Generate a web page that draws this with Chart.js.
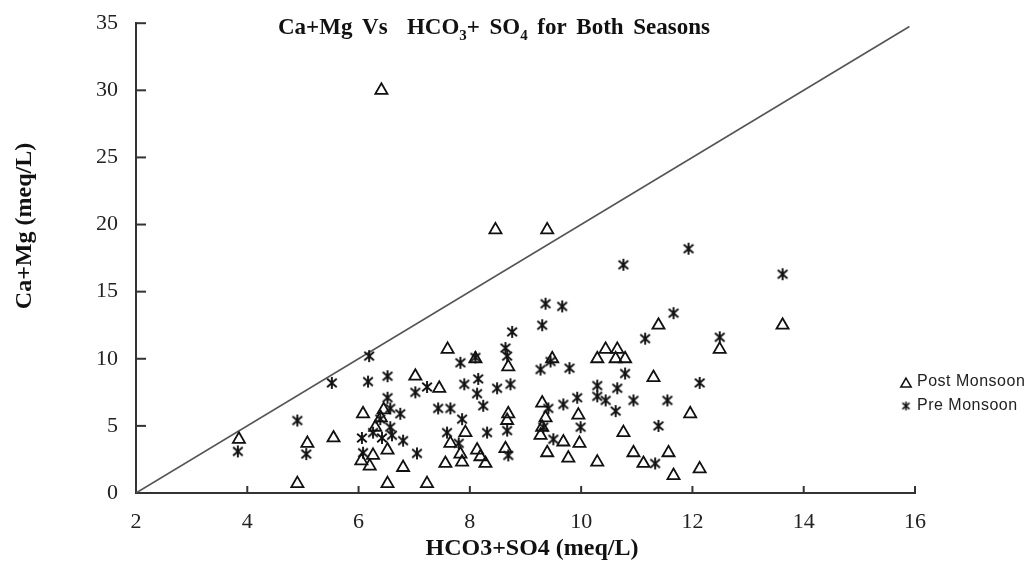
<!DOCTYPE html>
<html>
<head>
<meta charset="utf-8">
<script src="https://cdn.jsdelivr.net/npm/chart.js@4/dist/chart.umd.min.js"></script>
<style>
  body { margin: 0; background: #fff; }
  canvas { display: block; }
</style>
</head>
<body>
<canvas id="chart" width="1031" height="563"></canvas>
<script>
// values
var postX = [3.85, 4.9, 5.08, 5.55, 6.08, 6.05, 6.2, 6.26, 6.3, 6.4, 6.45, 6.52, 6.52, 6.8, 7.02, 7.23,
    7.45, 7.6, 7.56, 7.65, 7.92, 7.86, 7.83, 8.13, 8.19, 8.28, 8.69, 8.69, 8.67, 8.64, 8.1, 9.48,
    11.39, 13.62, 12.49, 10.29, 10.44, 10.65, 10.62, 10.79, 11.3, 11.96, 9.3, 9.36, 9.3, 9.27, 9.39,
    9.68, 9.77, 9.95, 9.97, 10.76, 10.94, 10.29, 11.12, 11.57, 11.66, 12.13, 6.41, 8.46, 9.39];
var postY = [4.0, 0.7, 3.7, 4.1, 5.9, 2.4, 2.0, 2.8, 4.9, 5.6, 6.2, 3.2, 0.7, 1.9, 8.7, 0.7,
    7.8, 10.7, 2.2, 3.7, 4.5, 2.3, 2.9, 3.2, 2.7, 2.2, 9.4, 5.9, 5.4, 3.3, 10.0, 10.0,
    12.5, 12.5, 10.7, 10.0, 10.7, 10.7, 10.0, 10.0, 8.6, 5.9, 6.7, 5.6, 4.9, 4.3, 3.0,
    3.8, 2.6, 5.8, 3.7, 4.5, 3.0, 2.3, 2.2, 3.0, 1.3, 1.8, 30.0, 19.6, 19.6];

var preX = [3.83, 4.9, 5.06, 5.52, 6.19, 6.17, 6.52, 6.52, 6.75, 6.06, 6.08, 6.26, 6.42, 6.57, 6.6,
    6.8, 6.39, 7.02, 7.05, 7.23, 7.43, 7.65, 7.59, 7.8, 7.86, 7.83, 8.1, 7.9, 8.15, 8.13, 8.24,
    8.31, 8.49, 8.73, 8.76, 8.64, 8.67, 8.67, 8.69, 9.3, 9.36, 9.66, 11.66, 11.15, 12.49, 9.27,
    9.45, 9.79, 10.79, 12.13, 10.29, 10.65, 10.29, 10.44, 10.62, 10.94, 11.55, 9.68, 9.93, 11.39,
    9.99, 9.41, 9.5, 9.32, 11.33, 11.93, 10.76, 13.62, 6.57];
var preY = [3.1, 5.4, 2.9, 8.2, 10.2, 8.3, 8.7, 7.1, 5.9, 4.1, 3.0, 4.5, 4.1, 4.9, 4.3,
    3.9, 5.5, 7.5, 2.95, 7.9, 6.3, 6.3, 4.5, 3.7, 5.5, 9.7, 10.1, 8.1, 8.5, 7.4, 6.5,
    4.5, 7.8, 8.1, 12.0, 10.8, 10.2, 4.65, 2.8, 12.5, 14.1, 13.9, 13.4, 11.5, 11.6, 9.2,
    9.8, 9.3, 8.9, 8.2, 8.0, 7.8, 7.2, 6.9, 6.1, 6.9, 6.9, 6.6, 7.1, 5.0,
    4.9, 6.3, 4.0, 4.9, 2.2, 18.2, 17.0, 16.3, 6.3];

var lineX = [2, 15.9];
var lineY = [0, 34.75];

var seriesNames = ['Post Monsoon', 'Pre Monsoon'];
var xTitle = 'HCO3+SO4 (meq/L)';
var yTitle = 'Ca+Mg (meq/L)';
// [text, isSubscript]
var titleParts = [['Ca+Mg Vs  HCO', 0], ['3', 1], ['+ SO', 0], ['4', 1], [' for Both Seasons', 0]];

function pairs(xs, ys) {
    return xs.map(function (x, i) { return { x: x, y: ys[i] }; });
}

function makeStar(size, lw) {
    var c = document.createElement('canvas');
    c.width = size;
    c.height = size;
    var g = c.getContext('2d');
    var m = size / 2, r = size / 2 - 1;
    g.strokeStyle = '#111';
    g.lineWidth = lw;
    g.beginPath();
    g.moveTo(m, m - r); g.lineTo(m, m + r);
    g.moveTo(m - r * 0.8, m - r * 0.7); g.lineTo(m + r * 0.8, m + r * 0.7);
    g.moveTo(m - r * 0.8, m + r * 0.7); g.lineTo(m + r * 0.8, m - r * 0.7);
    g.stroke();
    return c;
}

function drawTriangle(ctx, x, y, r) {
    ctx.beginPath();
    ctx.moveTo(x, y - r);
    ctx.lineTo(x + r * 0.866, y + r * 0.5);
    ctx.lineTo(x - r * 0.866, y + r * 0.5);
    ctx.closePath();
    ctx.stroke();
}

var starImg = makeStar(14, 1.9);
var starSmall = makeStar(11, 1.5);

var decorPlugin = {
    id: 'decor',
    afterDraw: function (chart) {
        var ctx = chart.ctx;
        var area = chart.chartArea;
        var xs = chart.scales.x, ys = chart.scales.y;
        ctx.save();
        // inward tick marks
        ctx.strokeStyle = '#333';
        ctx.lineWidth = 2;
        ys.ticks.forEach(function (t) {
            if (t.value === 0) return;
            var py = ys.getPixelForValue(t.value);
            ctx.beginPath();
            ctx.moveTo(area.left, py);
            ctx.lineTo(area.left + 10, py);
            ctx.stroke();
        });
        xs.ticks.forEach(function (t) {
            if (t.value === 2) return;
            var px = xs.getPixelForValue(t.value);
            ctx.beginPath();
            ctx.moveTo(px, area.bottom);
            ctx.lineTo(px, area.bottom - 7);
            ctx.stroke();
        });

        ctx.fillStyle = '#111';
        // chart title with subscripts
        var mainFont = 'bold 23px "Liberation Serif"';
        var subFont = 'bold 15px "Liberation Serif"';
        var natural = 0, spaces = 0;
        titleParts.forEach(function (p) {
            ctx.font = p[1] ? subFont : mainFont;
            natural += ctx.measureText(p[0]).width;
            spaces += (p[0].match(/ /g) || []).length;
        });
        var extra = (432 - natural) / spaces;
        var tx = 278, baseY = 34;
        ctx.textAlign = 'left';
        ctx.textBaseline = 'alphabetic';
        titleParts.forEach(function (p) {
            ctx.font = p[1] ? subFont : mainFont;
            var sp = ctx.measureText(' ').width + extra;
            var words = p[0].split(' ');
            words.forEach(function (w, i) {
                if (i > 0) tx += sp;
                ctx.fillText(w, tx, p[1] ? baseY + 6 : baseY);
                tx += ctx.measureText(w).width;
            });
        });

        // axis titles
        ctx.font = 'bold 24px "Liberation Serif"';
        ctx.textAlign = 'center';
        ctx.fillText(xTitle, 532, 555);
        ctx.save();
        ctx.translate(31, 226);
        ctx.rotate(-Math.PI / 2);
        ctx.fillText(yTitle, 0, 0);
        ctx.restore();

        // legend
        ctx.font = '16px "Liberation Sans"';
        ctx.letterSpacing = '0.5px';
        ctx.textAlign = 'left';
        ctx.textBaseline = 'middle';
        ctx.fillStyle = '#222';
        ctx.strokeStyle = '#111';
        ctx.lineWidth = 1.5;
        drawTriangle(ctx, 906, 384, 6);
        ctx.fillText(seriesNames[0], 917, 382);
        ctx.drawImage(starSmall, 906 - 5.5, 406 - 5.5);
        ctx.fillText(seriesNames[1], 917, 406);
        ctx.restore();
    }
};

var tickFont = { family: 'Liberation Serif', size: 22 };

var chart = new Chart(document.getElementById('chart'), {
    type: 'scatter',
    data: {
        datasets: [
            {
                label: 'line',
                data: pairs(lineX, lineY),
                showLine: true,
                borderColor: '#555',
                borderWidth: 1.6,
                pointRadius: 0,
                order: 3
            },
            {
                label: seriesNames[0],
                data: pairs(postX, postY),
                pointStyle: 'triangle',
                pointRadius: 7,
                borderWidth: 1.8,
                borderColor: '#111',
                backgroundColor: 'rgba(0,0,0,0)',
                order: 1
            },
            {
                label: seriesNames[1],
                data: pairs(preX, preY),
                pointStyle: starImg,
                pointRadius: 6,
                order: 2
            }
        ]
    },
    options: {
        responsive: false,
        animation: false,
        layout: { padding: { left: 36, top: 8, right: 116, bottom: 0 } },
        plugins: {
            legend: { display: false },
            tooltip: { enabled: false }
        },
        scales: {
            x: {
                type: 'linear',
                min: 2,
                max: 16,
                ticks: { stepSize: 2, padding: 8, color: '#222', font: tickFont },
                grid: { display: false },
                border: { display: true, color: '#333', width: 2 },
                afterFit: function (s) { s.height = 70; }
            },
            y: {
                min: 0,
                max: 35,
                ticks: { stepSize: 5, padding: 10, color: '#222', font: tickFont },
                grid: { display: false },
                border: { display: true, color: '#333', width: 2 },
                afterFit: function (s) { s.width = 100; }
            }
        }
    },
    plugins: [decorPlugin]
});
</script>
</body>
</html>
